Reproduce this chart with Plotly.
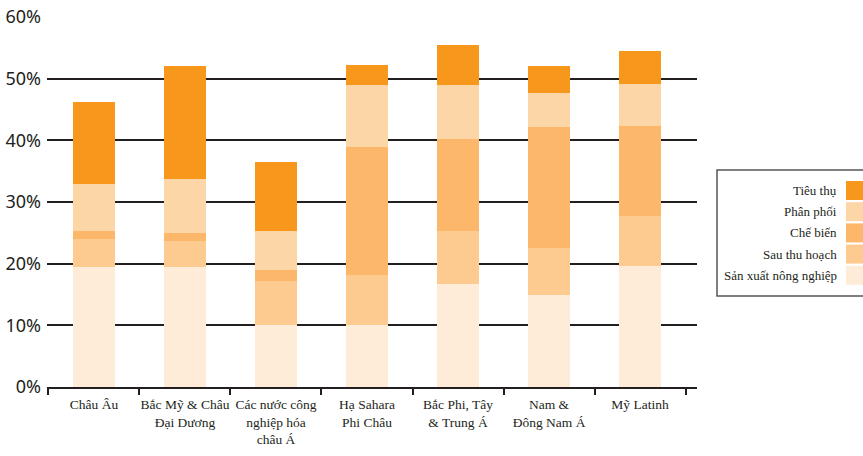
import plotly.graph_objects as go

categories = [
    "Châu Âu",
    "Bắc Mỹ & Châu<br>Đại Dương",
    "Các nước công<br>nghiệp hóa<br>châu Á",
    "Hạ Sahara<br>Phi Châu",
    "Bắc Phi, Tây<br>& Trung Á",
    "Nam &<br>Đông Nam Á",
    "Mỹ Latinh",
]

san_xuat = [19.5, 19.5, 10.0, 10.0, 16.7, 14.9, 19.6]
sau_thu_hoach = [4.5, 4.2, 7.2, 8.2, 8.6, 7.6, 8.1]
che_bien = [1.3, 1.3, 1.8, 20.7, 14.9, 19.7, 14.6]
phan_phoi = [7.7, 8.7, 6.3, 10.1, 8.8, 5.5, 6.8]
tieu_thu = [13.2, 18.3, 11.2, 3.2, 6.5, 4.3, 5.4]

series_names = ["Sản xuất nông nghiệp", "Sau thu hoạch", "Chế biến", "Phân phối", "Tiêu thụ"]
series_values = [san_xuat, sau_thu_hoach, che_bien, phan_phoi, tieu_thu]
colors = ["#feecd9", "#fdcb90", "#fcb76b", "#fdd6a8", "#f7981d"]

y_ticks = [0, 10, 20, 30, 40, 50, 60]

W, H = 863, 456
L, R, T, B = 47, 697, 17, 387  # plot area in pixels

def px(x):
    return (x - L) / (R - L)

def py(y):
    return (B - y) / (B - T)

dark = "#231f20"

fig = go.Figure()
for name, vals, col in zip(series_names, series_values, colors):
    fig.add_trace(go.Bar(x=categories, y=vals, name=name, marker=dict(color=col, line=dict(width=0)),
                         width=0.47, showlegend=False))

fig.update_layout(
    barmode="stack",
    width=W, height=H,
    margin=dict(l=L, r=W - R, t=T, b=H - B, pad=0),
    paper_bgcolor="white", plot_bgcolor="white",
    font=dict(family="Liberation Serif", color=dark),
    xaxis=dict(
        type="category",
        range=[-0.516, 6.626],
        automargin=False,
        tickangle=0,
        showgrid=False,
        showline=True, linecolor=dark, linewidth=2,
        ticks="outside", tickson="boundaries", ticklen=6, tickwidth=2, tickcolor=dark,
        ticklabelstandoff=4,
        tickfont=dict(family="Liberation Serif", size=13.5, color=dark),
    ),
    yaxis=dict(
        range=[0, 60],
        automargin=False,
        tickvals=y_ticks,
        ticktext=[f"{v}%" for v in y_ticks],
        showgrid=True, gridcolor=dark, gridwidth=2,
        zeroline=False, showline=False,
        ticks="", ticklabelstandoff=5,
        tickfont=dict(family="Noto Sans", size=18, color=dark),
    ),
)

# Legend drawn manually (labels right-aligned, swatches on the right)
shapes = [dict(type="rect", xref="paper", yref="paper",
               x0=px(717), x1=px(872), y0=py(170), y1=py(296),
               line=dict(color="#555555", width=1.5), fillcolor="rgba(0,0,0,0)")]
annotations = []
legend_order = list(range(len(series_names)))[::-1]
for k, idx in enumerate(legend_order):
    top = 181 + k * 21.2
    shapes.append(dict(type="rect", xref="paper", yref="paper",
                       x0=px(846), x1=px(870), y0=py(top), y1=py(top + 19),
                       line=dict(width=0), fillcolor=colors[idx]))
    annotations.append(dict(xref="paper", yref="paper", x=px(839), y=py(top + 9.5),
                            text=series_names[idx], showarrow=False,
                            xanchor="right", yanchor="middle",
                            font=dict(family="Liberation Serif", size=13, color=dark)))
fig.update_layout(shapes=shapes, annotations=annotations)

fig.write_html("out.html")
